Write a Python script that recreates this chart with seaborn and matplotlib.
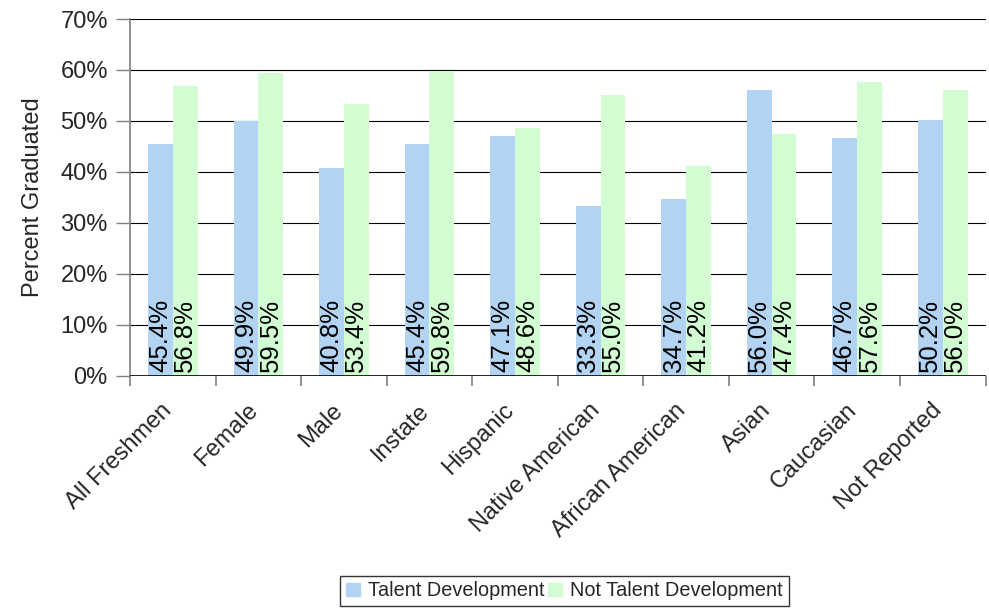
import matplotlib
matplotlib.use("Agg")
import matplotlib.pyplot as plt
import matplotlib.transforms as mtransforms
import seaborn as sns
import pandas as pd
import numpy as np
from matplotlib.ticker import FuncFormatter, FixedLocator

categories = ["All Freshmen", "Female", "Male", "Instate", "Hispanic",
              "Native American", "African American", "Asian", "Caucasian", "Not Reported"]
talent = [45.4, 49.9, 40.8, 45.4, 47.1, 33.3, 34.7, 56.0, 46.7, 50.2]
not_talent = [56.8, 59.5, 53.4, 59.8, 48.6, 55.0, 41.2, 47.4, 57.6, 56.0]
series = ["Talent Development", "Not Talent Development"]
colors = ["#B3D3F2", "#D2FCD2"]

df = pd.DataFrame({
    "Category": categories * 2,
    "Series": [series[0]] * len(categories) + [series[1]] * len(categories),
    "Value": talent + not_talent,
})

sns.set_style("white")
plt.rcParams["font.family"] = ["Liberation Sans", "DejaVu Sans"]

fig = plt.figure(figsize=(9.89, 6.14), dpi=100)
ax = fig.add_axes([0.1315, 0.388, 0.865, 0.581])

sns.barplot(data=df, x="Category", y="Value", hue="Series", palette=colors,
            width=0.58, saturation=1, ax=ax, zorder=2, linewidth=0)

for cont in ax.containers:
    for bar, v in zip(cont, cont.datavalues):
        ax.text(bar.get_x() + bar.get_width() / 2, 0.8, f"{v:.1f}%", rotation=90,
                ha="center", va="bottom", fontsize=18.5, color="black", zorder=3)

ax.set_ylim(0, 70)
ax.set_xlim(-0.5, len(categories) - 0.5)
ax.yaxis.set_major_locator(FixedLocator(np.arange(0, 71, 10)))
ax.yaxis.set_major_formatter(FuncFormatter(lambda v, p: f"{int(v)}%"))
ax.grid(axis="y", color="black", linewidth=0.8, zorder=0)
ax.set_axisbelow(True)

for s in ["top", "right", "bottom"]:
    ax.spines[s].set_visible(False)
ax.spines["left"].set_color("#808080")
ax.spines["left"].set_linewidth(1.2)
ax.axhline(0, color="black", linewidth=1.2, zorder=4)

ax.set_xticks(np.arange(len(categories)))
ax.set_xticklabels(categories, rotation=45, ha="right", rotation_mode="anchor", fontsize=17)
ax.tick_params(axis="x", length=0, pad=17)
offset = mtransforms.ScaledTranslation(-0.12, 0, fig.dpi_scale_trans)
for lab in ax.get_xticklabels():
    lab.set_transform(lab.get_transform() + offset)
ax.set_xticks(np.arange(-0.5, len(categories), 1), minor=True)
ax.tick_params(axis="x", which="minor", length=7, width=1.2, color="#808080", direction="out", bottom=True)
ax.tick_params(axis="y", length=10, width=1, color="#808080", direction="out", labelsize=17, left=True, pad=6)

ax.set_xlabel("")
ax.set_ylabel("Percent Graduated", fontsize=17, labelpad=12)

ax.legend_.remove()
handles = [plt.Rectangle((0, 0), 1, 1, color=c) for c in colors]
leg = fig.legend(handles, series, loc="center", bbox_to_anchor=(0.5705, 0.0375), ncol=2,
                 frameon=True, fontsize=14.3, handlelength=0.7, handleheight=0.7,
                 handletextpad=0.4, columnspacing=0.2, borderpad=0.3, fancybox=False)
leg.get_frame().set_edgecolor("black")
leg.get_frame().set_linewidth(1)

fig.savefig("out.png", dpi=100)
